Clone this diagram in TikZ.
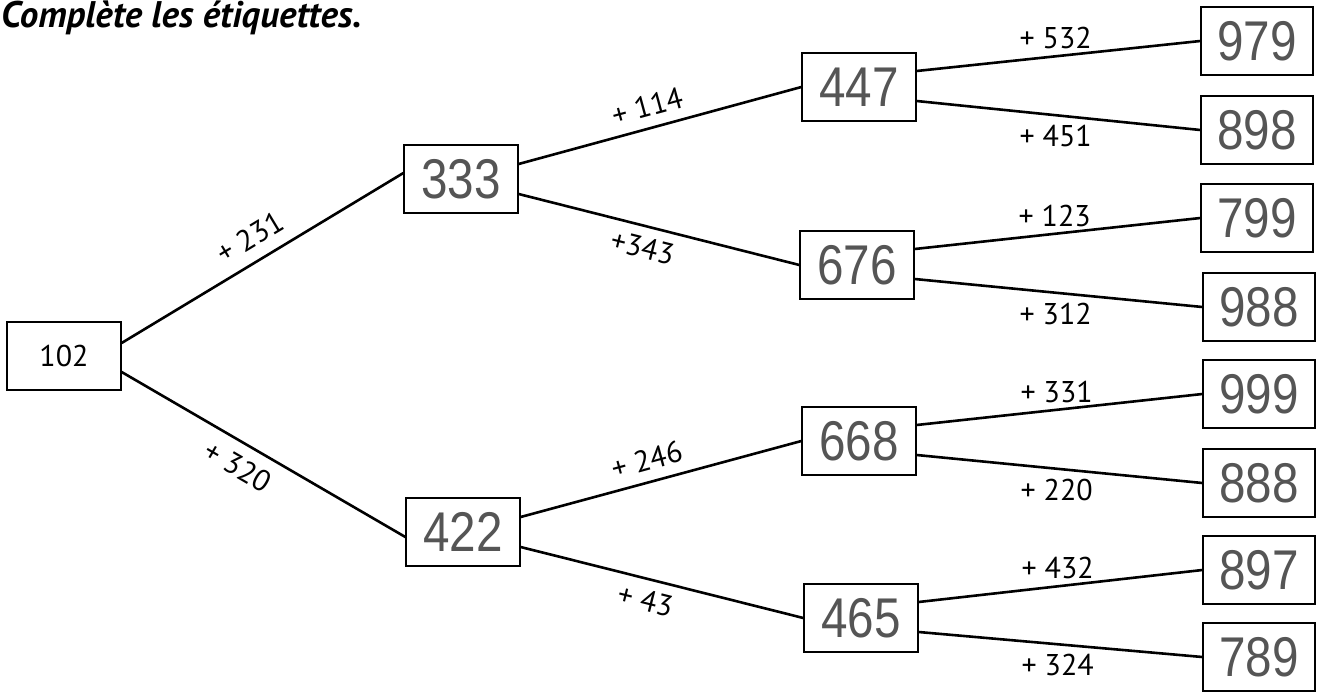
\documentclass[tikz,border=0pt]{standalone}
\usepackage{fontspec}
\setmainfont{PT Sans}
\newfontfamily\hand[FakeStretch=0.85]{Liberation Sans}
\definecolor{pencil}{HTML}{555555}
\begin{document}
\begin{tikzpicture}[x=1pt,y=-1pt,
  box/.style={draw, line width=1.3pt, minimum width=114pt, minimum height=68pt, inner sep=0pt},
  typed/.style={box, font=\fontsize{30}{32}\selectfont},
  hw/.style={box, font=\hand\fontsize{56}{60}\selectfont, text=pencil},
  rbox/.style={hw, minimum width=112pt},
  edge/.style={line width=2.6pt},
  lab/.style={font=\fontsize{30}{32}\selectfont, inner sep=2pt}]
\useasboundingbox (0,0) rectangle (1324,693);
\fill[white] (0,0) rectangle (1324,693);

\node[anchor=base west, font=\bfseries\itshape\fontsize{37}{40}\selectfont, inner sep=0pt] (title) at (1,28) {Complète les étiquettes.};

\node[typed] (n102) at (64,356) {102};
\node[hw] (n333) at (461,179) {333};
\node[hw] (n422) at (463,532) {422};
\node[hw] (n447) at (859,87) {447};
\node[hw] (n676) at (857,265) {676};
\node[hw] (n668) at (859,441) {668};
\node[hw] (n465) at (861,618) {465};
\node[rbox] (n979) at (1257,41) {979};
\node[rbox] (n898) at (1257,130) {898};
\node[rbox] (n799) at (1257,218) {799};
\node[rbox] (n988) at (1259,307) {988};
\node[rbox] (n999) at (1259,394) {999};
\node[rbox] (n888) at (1259,483) {888};
\node[rbox] (n897) at (1259,570) {897};
\node[rbox] (n789) at (1259,657) {789};

\draw[edge] ([yshift=13pt]n102.east) -- ([yshift=6pt]n333.west) node[lab, pos=0.5, sloped, above=10pt] {+ 231};
\draw[edge] ([yshift=-16pt]n102.east) -- ([yshift=-5pt]n422.west) node[lab, pos=0.45, sloped, below=9pt] {+ 320};

\draw[edge] ([yshift=15pt]n333.east) -- (n447.west) node[lab, pos=0.475, sloped, above=8pt] {+ 114};
\draw[edge] ([yshift=-15pt]n333.east) -- (n676.west) node[lab, pos=0.46, sloped, below=7pt] {+343};
\draw[edge] ([yshift=15pt]n422.east) -- (n668.west) node[lab, pos=0.47, sloped, above=8pt] {+ 246};
\draw[edge] ([yshift=-15pt]n422.east) -- (n465.west) node[lab, pos=0.46, sloped, below=7pt] {+ 43};

\draw[edge] ([yshift=16pt]n447.east) -- (n979.west) node[lab, pos=0.49, above=4pt] {+ 532};
\draw[edge] ([yshift=-14pt]n447.east) -- (n898.west) node[lab, pos=0.49, below=7pt] {+ 451};
\draw[edge] ([yshift=16pt]n676.east) -- (n799.west) node[lab, pos=0.49, above=4pt] {+ 123};
\draw[edge] ([yshift=-14pt]n676.east) -- (n988.west) node[lab, pos=0.49, below=7pt] {+ 312};
\draw[edge] ([yshift=16pt]n668.east) -- (n999.west) node[lab, pos=0.49, above=4pt] {+ 331};
\draw[edge] ([yshift=-14pt]n668.east) -- (n888.west) node[lab, pos=0.49, below=7pt] {+ 220};
\draw[edge] ([yshift=16pt]n465.east) -- (n897.west) node[lab, pos=0.49, above=4pt] {+ 432};
\draw[edge] ([yshift=-14pt]n465.east) -- (n789.west) node[lab, pos=0.49, below=7pt] {+ 324};
\end{tikzpicture}
\end{document}
